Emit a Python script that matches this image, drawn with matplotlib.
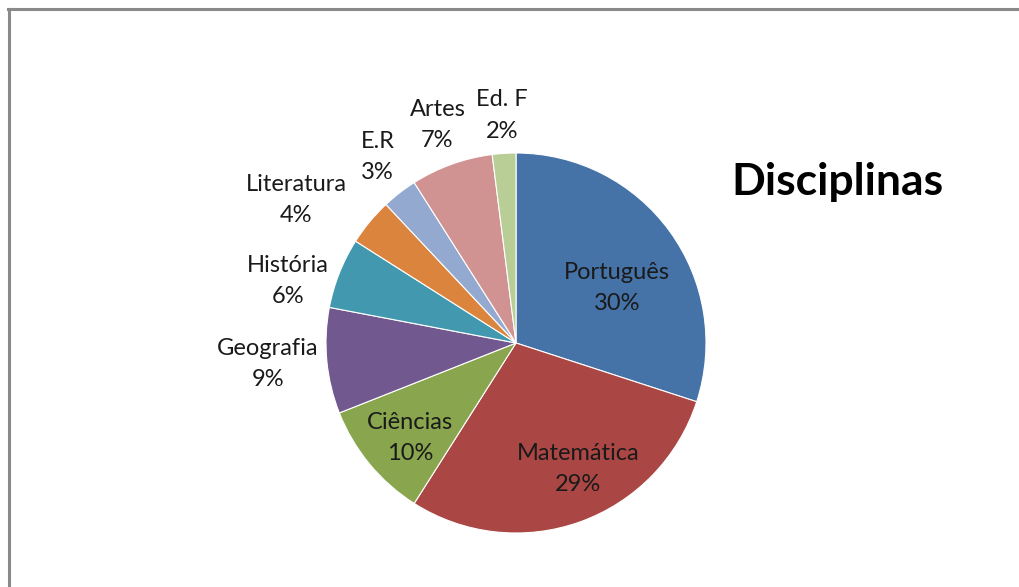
import numpy as np
import matplotlib

matplotlib.use("Agg")
import matplotlib.pyplot as plt  # noqa: E402
from matplotlib.lines import Line2D  # noqa: E402

plt.rcParams["font.family"] = ["Lato", "DejaVu Sans"]

disciplinas = ["Português", "Matemática", "Ciências", "Geografia", "História",
               "Literatura", "E.R", "Artes", "Ed. F"]
percentuais = [30, 29, 10, 9, 6, 4, 3, 7, 2]
cores = ["#4572A7", "#AA4643", "#89A54E", "#71588F", "#4198AF",
         "#DB843D", "#93A9CF", "#D19392", "#B9CD96"]
# posição do rótulo: distância ao centro (em raios) e ajuste do ângulo (graus)
dist_rotulo = [0.605, 0.74, 0.75, 1.31, 1.245, 1.38, 1.22, 1.22, 1.20]
ajuste_ang = [-7.4, 6.4, 2.3, -0.6, 6.4, 6.6, -1.2, 0.0, 0.0]

W, H = 1019, 587
fig = plt.figure(figsize=(W / 100, H / 100), dpi=100)
fig.patch.set_facecolor("white")

# moldura cinza (só topo e esquerda aparecem no recorte)
fig.add_artist(Line2D([8 / W, 1], [1 - 9 / H, 1 - 9 / H], color="#8a8a8a", lw=2.2))
fig.add_artist(Line2D([8.5 / W, 8.5 / W], [0, 1 - 9 / H], color="#8a8a8a", lw=2.2))

cx, cy, r = 516, 343, 190
ax = fig.add_axes([(cx - r) / W, 1 - (cy + r) / H, 2 * r / W, 2 * r / H])
wedges, _ = ax.pie(percentuais, colors=cores, startangle=90, counterclock=False,
                   radius=1, wedgeprops=dict(edgecolor="white", linewidth=0.8))
ax.set_xlim(-1, 1)
ax.set_ylim(-1, 1)
ax.set_aspect("equal")
ax.axis("off")

for w, nome, p, d, da in zip(wedges, disciplinas, percentuais, dist_rotulo, ajuste_ang):
    ang = np.deg2rad((w.theta1 + w.theta2) / 2 + da)
    x, y = d * np.cos(ang), d * np.sin(ang)
    ax.text(x, y, f"{nome}\n{p}%", ha="center", va="center", fontsize=17,
            color="#1a1a1a", linespacing=1.6, clip_on=False)

fig.text(837 / W, 1 - 182 / H, "Disciplinas", ha="center", va="center",
         fontsize=32, fontweight="bold", color="black")

fig.savefig("out.png", dpi=100, facecolor="white")
